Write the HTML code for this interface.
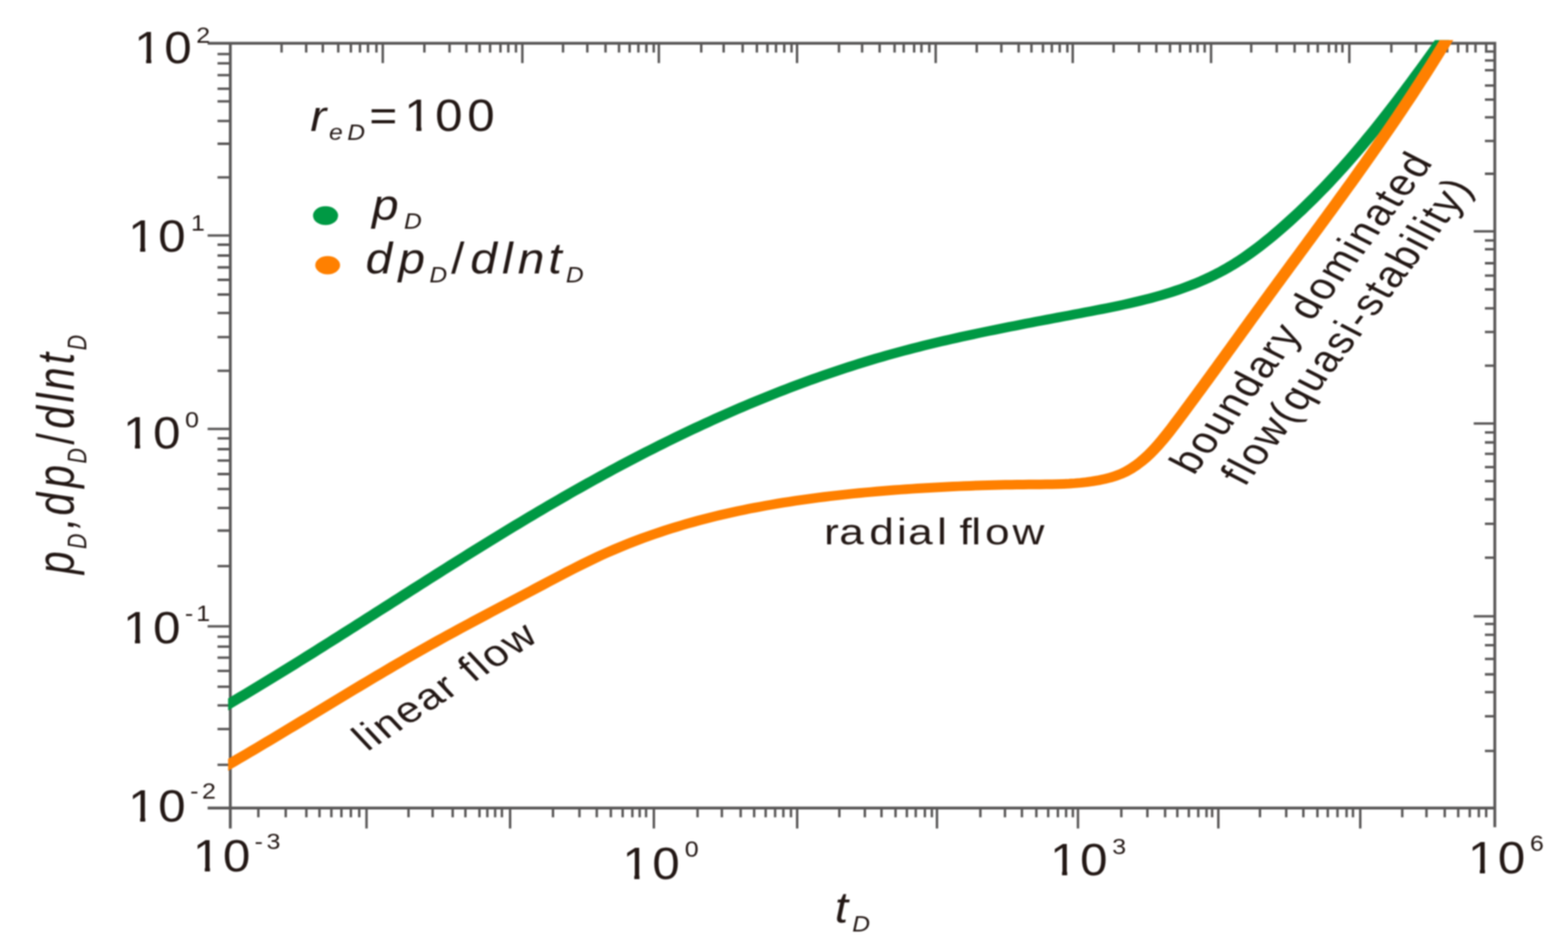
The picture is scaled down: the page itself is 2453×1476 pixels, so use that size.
<!DOCTYPE html>
<html lang="en"><head><meta charset="utf-8"><title>Pressure and pressure derivative type curve</title>
<style>html,body{margin:0;padding:0;background:#fff;}body{width:2453px;height:1476px;overflow:hidden;}svg{display:block;filter:blur(1.3px);}text{font-family:"Liberation Sans",Arial,Helvetica,sans-serif;fill:#231815;}</style></head><body>
<svg xmlns="http://www.w3.org/2000/svg" width="2453" height="1476" viewBox="0 0 2453 1476">
<rect width="2453" height="1476" fill="#fff"/>
<g stroke="#595757" stroke-width="4.4" fill="none" stroke-linecap="butt">
<path d="M324.8 67.7H2340.7 M324.8 1264.8H2340.7 M360.3 65.5V1296.8 M2338.5 65.5V1294.8"/>
<path stroke-width="3.8" d="M573.4 1264.8v32 M798.0 1264.8v32 M1022.9 1264.8v32 M1247.1 1264.8v32 M1465.8 1264.8v32 M1686.4 1264.8v32 M1906.0 1264.8v32 M2128.0 1264.8v32 M404.2 1264.8v14.5 M447.0 1264.8v14.5 M479.3 1264.8v14.5 M499.8 1264.8v14.5 M518.4 1264.8v14.5 M534.1 1264.8v14.5 M548.9 1264.8v14.5 M562.0 1264.8v14.5 M639.1 1264.8v14.5 M676.8 1264.8v14.5 M708.2 1264.8v14.5 M728.1 1264.8v14.5 M750.1 1264.8v14.5 M762.4 1264.8v14.5 M774.6 1264.8v14.5 M785.2 1264.8v14.5 M865.1 1264.8v14.5 M906.5 1264.8v14.5 M933.6 1264.8v14.5 M955.6 1264.8v14.5 M974.1 1264.8v14.5 M989.3 1264.8v14.5 M1000.7 1264.8v14.5 M1010.7 1264.8v14.5 M1091.3 1264.8v14.5 M1129.3 1264.8v14.5 M1158.7 1264.8v14.5 M1179.8 1264.8v14.5 M1197.8 1264.8v14.5 M1212.6 1264.8v14.5 M1225.5 1264.8v14.5 M1237.4 1264.8v14.5 M1313.1 1264.8v14.5 M1353.0 1264.8v14.5 M1379.0 1264.8v14.5 M1401.0 1264.8v14.5 M1418.7 1264.8v14.5 M1432.6 1264.8v14.5 M1446.9 1264.8v14.5 M1457.8 1264.8v14.5 M1533.7 1264.8v14.5 M1572.2 1264.8v14.5 M1598.7 1264.8v14.5 M1621.3 1264.8v14.5 M1639.8 1264.8v14.5 M1655.0 1264.8v14.5 M1667.8 1264.8v14.5 M1678.4 1264.8v14.5 M1754.2 1264.8v14.5 M1795.0 1264.8v14.5 M1822.7 1264.8v14.5 M1841.8 1264.8v14.5 M1859.8 1264.8v14.5 M1874.6 1264.8v14.5 M1887.5 1264.8v14.5 M1896.3 1264.8v14.5 M1971.1 1264.8v14.5 M2012.2 1264.8v14.5 M2039.0 1264.8v14.5 M2061.0 1264.8v14.5 M2077.2 1264.8v14.5 M2092.4 1264.8v14.5 M2106.6 1264.8v14.5 M2116.6 1264.8v14.5 M2193.7 1264.8v14.5 M2231.6 1264.8v14.5 M2260.2 1264.8v14.5 M2281.3 1264.8v14.5 M2299.3 1264.8v14.5 M2313.5 1264.8v14.5 M2325.0 1264.8v14.5 M598.8 67.7v31 M817.2 67.7v31 M1030.7 67.7v31 M1246.9 67.7v31 M1463.8 67.7v31 M1678.2 67.7v31 M1894.6 67.7v31 M2110.9 67.7v31 M440.5 67.7v14.5 M479.0 67.7v14.5 M505.0 67.7v14.5 M529.2 67.7v14.5 M548.9 67.7v14.5 M563.2 67.7v14.5 M575.7 67.7v14.5 M588.9 67.7v14.5 M663.9 67.7v14.5 M703.3 67.7v14.5 M729.6 67.7v14.5 M750.4 67.7v14.5 M766.7 67.7v14.5 M782.9 67.7v14.5 M795.2 67.7v14.5 M807.2 67.7v14.5 M880.8 67.7v14.5 M918.8 67.7v14.5 M947.3 67.7v14.5 M968.4 67.7v14.5 M985.0 67.7v14.5 M998.7 67.7v14.5 M1011.2 67.7v14.5 M1022.7 67.7v14.5 M1097.0 67.7v14.5 M1132.1 67.7v14.5 M1161.8 67.7v14.5 M1184.1 67.7v14.5 M1200.6 67.7v14.5 M1214.0 67.7v14.5 M1226.9 67.7v14.5 M1238.3 67.7v14.5 M1312.5 67.7v14.5 M1348.7 67.7v14.5 M1376.1 67.7v14.5 M1399.5 67.7v14.5 M1413.8 67.7v14.5 M1430.1 67.7v14.5 M1441.5 67.7v14.5 M1453.8 67.7v14.5 M1528.0 67.7v14.5 M1566.5 67.7v14.5 M1593.6 67.7v14.5 M1613.6 67.7v14.5 M1631.6 67.7v14.5 M1645.5 67.7v14.5 M1657.8 67.7v14.5 M1669.8 67.7v14.5 M1742.2 67.7v14.5 M1781.9 67.7v14.5 M1809.0 67.7v14.5 M1830.4 67.7v14.5 M1846.1 67.7v14.5 M1862.1 67.7v14.5 M1873.5 67.7v14.5 M1884.6 67.7v14.5 M1957.4 67.7v14.5 M1997.3 67.7v14.5 M2025.3 67.7v14.5 M2046.7 67.7v14.5 M2061.5 67.7v14.5 M2078.9 67.7v14.5 M2090.1 67.7v14.5 M2100.1 67.7v14.5 M2176.6 67.7v14.5 M2215.3 67.7v14.5 M2244.3 67.7v14.5 M2264.0 67.7v14.5 M2281.1 67.7v14.5 M2295.2 67.7v14.5 M2308.3 67.7v14.5 M2325.0 67.7v14.5 M360.3 368.6h-35.5 M360.3 671.3h-35.5 M360.3 980.3h-35.5 M360.3 84.7h-20 M360.3 99.2h-20 M360.3 117.7h-20 M360.3 138.8h-20 M360.3 158.7h-20 M360.3 189.4h-20 M360.3 225.0h-20 M360.3 277.7h-20 M360.3 383.0h-20 M360.3 400.0h-20 M360.3 418.5h-20 M360.3 438.0h-20 M360.3 461.0h-20 M360.3 489.8h-20 M360.3 527.7h-20 M360.3 580.3h-20 M360.3 686.2h-20 M360.3 703.0h-20 M360.3 720.9h-20 M360.3 742.0h-20 M360.3 765.3h-20 M360.3 795.2h-20 M360.3 830.5h-20 M360.3 886.1h-20 M360.3 996.6h-20 M360.3 1012.2h-20 M360.3 1029.3h-20 M360.3 1050.1h-20 M360.3 1074.8h-20 M360.3 1104.1h-20 M360.3 1141.1h-20 M360.3 1197.2h-20 M2338.5 362.2h-33 M2338.5 662.9h-33 M2338.5 964.7h-33 M2338.5 80.7h-15.5 M2338.5 94.7h-15.5 M2338.5 109.8h-15.5 M2338.5 133.9h-15.5 M2338.5 155.9h-15.5 M2338.5 183.7h-15.5 M2338.5 220.7h-15.5 M2338.5 272.0h-15.5 M2338.5 376.4h-15.5 M2338.5 390.1h-15.5 M2338.5 412.0h-15.5 M2338.5 431.3h-15.5 M2338.5 453.0h-15.5 M2338.5 482.7h-15.5 M2338.5 519.7h-15.5 M2338.5 572.4h-15.5 M2338.5 676.8h-15.5 M2338.5 692.5h-15.5 M2338.5 710.4h-15.5 M2338.5 731.2h-15.5 M2338.5 753.1h-15.5 M2338.5 781.5h-15.5 M2338.5 819.9h-15.5 M2338.5 872.8h-15.5 M2338.5 976.6h-15.5 M2338.5 993.7h-15.5 M2338.5 1009.9h-15.5 M2338.5 1031.3h-15.5 M2338.5 1055.5h-15.5 M2338.5 1083.4h-15.5 M2338.5 1121.2h-15.5 M2338.5 1175.3h-15.5"/>
</g>
<defs><clipPath id="pc"><rect x="356.8" y="62.7" width="1985.2" height="1206.1"/></clipPath>
<clipPath id="c1"><path d="M-2 -80H30.1V-7.3H-2Z M17.0 -20H24.3V3H17.0Z M36.4 -80H200V30H36.4Z"/></clipPath></defs>
<g clip-path="url(#pc)"><g transform="scale(1.300 1)" fill="none" stroke-linejoin="round" stroke-linecap="round" stroke-width="15.0">
<path d="M267.76 1107.64 L273.50 1103.24 L279.25 1098.84 L284.98 1094.43 L290.71 1090.00 L296.43 1085.57 L302.14 1081.12 L307.84 1076.65 L313.54 1072.18 L319.22 1067.69 L324.90 1063.20 L330.57 1058.69 L336.24 1054.17 L341.89 1049.65 L347.55 1045.11 L353.19 1040.57 L358.83 1036.02 L364.46 1031.46 L370.09 1026.90 L375.71 1022.32 L381.33 1017.74 L386.94 1013.16 L392.55 1008.57 L398.16 1003.97 L403.76 999.37 L409.35 994.77 L414.95 990.16 L420.54 985.55 L426.13 980.94 L431.71 976.32 L437.30 971.70 L442.88 967.08 L448.46 962.46 L454.03 957.84 L459.61 953.22 L465.19 948.60 L470.76 943.98 L476.34 939.36 L481.91 934.74 L487.49 930.12 L493.06 925.51 L498.64 920.89 L504.22 916.29 L509.79 911.68 L515.37 907.08 L520.96 902.48 L526.54 897.89 L532.12 893.31 L537.71 888.73 L543.30 884.15 L548.90 879.58 L554.49 875.02 L560.10 870.47 L565.70 865.93 L571.31 861.39 L576.92 856.86 L582.54 852.34 L588.16 847.84 L593.79 843.34 L599.43 838.85 L605.07 834.37 L610.71 829.91 L616.36 825.45 L622.02 821.01 L627.69 816.58 L633.36 812.17 L639.04 807.77 L644.72 803.38 L650.42 799.00 L656.12 794.65 L661.83 790.30 L667.55 785.97 L673.28 781.66 L679.02 777.37 L684.77 773.09 L690.52 768.83 L696.29 764.59 L702.07 760.36 L707.85 756.16 L713.65 751.97 L719.46 747.81 L725.28 743.66 L731.11 739.53 L736.96 735.43 L742.81 731.35 L748.68 727.28 L754.56 723.24 L760.44 719.23 L766.34 715.23 L772.25 711.26 L778.17 707.32 L784.10 703.39 L790.05 699.50 L796.00 695.62 L801.96 691.77 L807.93 687.95 L813.92 684.16 L819.91 680.39 L825.92 676.65 L831.93 672.93 L837.95 669.25 L843.99 665.59 L850.03 661.96 L856.09 658.36 L862.15 654.79 L868.22 651.25 L874.31 647.74 L880.40 644.27 L886.50 640.82 L892.61 637.40 L898.73 634.02 L904.86 630.67 L911.00 627.35 L917.15 624.07 L923.30 620.82 L929.47 617.60 L935.64 614.42 L941.83 611.27 L948.02 608.16 L954.22 605.08 L960.43 602.04 L966.64 599.04 L972.87 596.08 L979.10 593.15 L985.35 590.26 L991.60 587.41 L997.85 584.59 L1004.12 581.82 L1010.40 579.08 L1016.68 576.39 L1022.97 573.74 L1029.26 571.12 L1035.57 568.55 L1041.88 566.02 L1048.20 563.53 L1054.53 561.09 L1060.86 558.69 L1067.21 556.33 L1073.55 554.01 L1079.91 551.74 L1086.27 549.51 L1092.64 547.32 L1099.02 545.17 L1105.40 543.05 L1111.79 540.97 L1118.19 538.93 L1124.59 536.92 L1131.00 534.94 L1137.42 533.00 L1143.84 531.08 L1150.27 529.19 L1156.71 527.33 L1163.15 525.50 L1169.59 523.68 L1176.05 521.89 L1182.51 520.13 L1188.97 518.38 L1195.44 516.65 L1201.92 514.94 L1208.40 513.24 L1214.89 511.56 L1221.38 509.90 L1227.88 508.24 L1234.38 506.60 L1240.89 504.96 L1247.40 503.34 L1253.92 501.72 L1260.44 500.10 L1266.97 498.49 L1273.50 496.88 L1280.04 495.27 L1286.58 493.67 L1293.13 492.06 L1299.68 490.45 L1306.23 488.83 L1312.79 487.20 L1319.35 485.56 L1325.90 483.89 L1332.45 482.19 L1338.99 480.46 L1345.52 478.69 L1352.04 476.86 L1358.55 474.98 L1365.03 473.04 L1371.50 471.03 L1377.95 468.95 L1384.37 466.78 L1390.76 464.53 L1397.12 462.18 L1403.45 459.73 L1409.75 457.18 L1416.01 454.51 L1422.24 451.72 L1428.42 448.80 L1434.55 445.76 L1440.64 442.57 L1446.68 439.24 L1452.67 435.76 L1458.61 432.11 L1464.49 428.31 L1470.31 424.33 L1476.07 420.17 L1481.77 415.84 L1487.41 411.32 L1492.98 406.65 L1498.50 401.82 L1503.95 396.85 L1509.35 391.75 L1514.69 386.53 L1519.98 381.20 L1525.21 375.78 L1530.39 370.27 L1535.52 364.68 L1540.60 359.02 L1545.63 353.29 L1550.61 347.51 L1555.55 341.68 L1560.44 335.80 L1565.29 329.88 L1570.09 323.91 L1574.85 317.89 L1579.57 311.84 L1584.25 305.74 L1588.89 299.60 L1593.49 293.42 L1598.05 287.20 L1602.58 280.94 L1607.07 274.64 L1611.52 268.31 L1615.95 261.94 L1620.34 255.54 L1624.69 249.10 L1629.02 242.62 L1633.32 236.11 L1637.59 229.58 L1641.83 223.00 L1646.04 216.40 L1650.23 209.77 L1654.39 203.11 L1658.53 196.43 L1662.65 189.71 L1666.74 182.97 L1670.82 176.20 L1674.87 169.41 L1678.90 162.60 L1682.92 155.76 L1686.92 148.90 L1690.90 142.02 L1694.87 135.11 L1698.82 128.19 L1702.76 121.25 L1706.69 114.29 L1710.60 107.32 L1714.51 100.32 L1718.41 93.32 L1722.29 86.29 L1726.17 79.26 L1730.05 72.21 L1733.92 65.14 L1737.78 58.08" stroke="#009944"/>
<path d="M268.26 1201.79 L274.32 1197.23 L280.37 1192.67 L286.43 1188.09 L292.47 1183.49 L298.52 1178.87 L304.56 1174.24 L310.60 1169.59 L316.63 1164.93 L322.67 1160.26 L328.70 1155.57 L334.73 1150.87 L340.75 1146.16 L346.78 1141.45 L352.80 1136.73 L358.83 1132.00 L364.85 1127.27 L370.87 1122.53 L376.89 1117.79 L382.92 1113.05 L388.94 1108.31 L394.96 1103.57 L400.99 1098.83 L407.02 1094.10 L413.05 1089.37 L419.08 1084.65 L425.11 1079.93 L431.15 1075.22 L437.19 1070.52 L443.23 1065.83 L449.28 1061.15 L455.33 1056.48 L461.39 1051.83 L467.45 1047.20 L473.51 1042.57 L479.58 1037.97 L485.66 1033.38 L491.74 1028.82 L497.82 1024.27 L503.92 1019.75 L510.02 1015.25 L516.13 1010.77 L522.24 1006.32 L528.36 1001.90 L534.49 997.50 L540.63 993.12 L546.77 988.76 L552.93 984.43 L559.08 980.11 L565.25 975.80 L571.42 971.51 L577.60 967.23 L583.78 962.96 L589.98 958.69 L596.17 954.43 L602.37 950.18 L608.58 945.92 L614.80 941.67 L621.02 937.41 L627.24 933.14 L633.47 928.87 L639.71 924.59 L645.95 920.30 L652.19 916.00 L658.44 911.69 L664.70 907.39 L670.97 903.10 L677.24 898.82 L683.53 894.58 L689.84 890.37 L696.15 886.21 L702.49 882.11 L708.84 878.07 L715.21 874.10 L721.60 870.21 L728.02 866.41 L734.45 862.71 L740.91 859.09 L747.39 855.57 L753.90 852.13 L760.42 848.79 L766.97 845.52 L773.53 842.34 L780.12 839.25 L786.72 836.24 L793.34 833.31 L799.98 830.45 L806.64 827.68 L813.32 824.98 L820.02 822.36 L826.73 819.82 L833.46 817.34 L840.20 814.94 L846.96 812.61 L853.74 810.35 L860.53 808.16 L867.33 806.03 L874.15 803.97 L880.98 801.97 L887.83 800.04 L894.69 798.17 L901.56 796.36 L908.44 794.61 L915.34 792.92 L922.24 791.28 L929.16 789.70 L936.09 788.17 L943.02 786.70 L949.97 785.28 L956.93 783.91 L963.89 782.58 L970.86 781.31 L977.84 780.08 L984.83 778.90 L991.83 777.76 L998.83 776.66 L1005.84 775.61 L1012.85 774.60 L1019.87 773.62 L1026.90 772.68 L1033.93 771.78 L1040.96 770.92 L1048.00 770.09 L1055.04 769.29 L1062.08 768.52 L1069.13 767.78 L1076.18 767.07 L1083.23 766.39 L1090.28 765.74 L1097.33 765.12 L1104.39 764.52 L1111.44 763.96 L1118.50 763.42 L1125.55 762.90 L1132.60 762.42 L1139.65 761.96 L1146.70 761.53 L1153.75 761.13 L1160.80 760.75 L1167.84 760.40 L1174.88 760.07 L1181.92 759.77 L1188.95 759.50 L1195.98 759.25 L1203.00 759.02 L1210.02 758.83 L1217.03 758.65 L1224.04 758.51 L1231.04 758.38 L1238.04 758.28 L1245.03 758.21 L1252.01 758.14 L1258.98 758.05 L1265.95 757.92 L1272.90 757.71 L1279.85 757.40 L1286.79 756.97 L1293.72 756.37 L1300.64 755.60 L1307.55 754.61 L1314.45 753.38 L1321.34 751.89 L1328.21 750.09 L1335.04 747.93 L1341.79 745.29 L1348.40 742.09 L1354.83 738.23 L1361.04 733.66 L1366.98 728.52 L1372.62 722.98 L1377.98 717.11 L1383.10 710.94 L1388.00 704.49 L1392.74 697.81 L1397.34 690.94 L1401.82 683.90 L1406.22 676.73 L1410.54 669.46 L1414.81 662.13 L1419.06 654.77 L1423.28 647.41 L1427.50 640.05 L1431.69 632.67 L1435.88 625.30 L1440.05 617.92 L1444.21 610.54 L1448.36 603.16 L1452.51 595.78 L1456.64 588.39 L1460.77 581.00 L1464.89 573.61 L1469.00 566.22 L1473.11 558.83 L1477.22 551.44 L1481.33 544.05 L1485.43 536.66 L1489.53 529.27 L1493.63 521.88 L1497.73 514.49 L1501.84 507.10 L1505.95 499.72 L1510.06 492.34 L1514.18 484.96 L1518.30 477.58 L1522.43 470.21 L1526.56 462.84 L1530.70 455.48 L1534.85 448.11 L1539.00 440.75 L1543.15 433.38 L1547.31 426.02 L1551.46 418.66 L1555.62 411.30 L1559.78 403.94 L1563.95 396.58 L1568.11 389.21 L1572.27 381.85 L1576.43 374.48 L1580.59 367.11 L1584.75 359.73 L1588.90 352.36 L1593.05 344.98 L1597.20 337.59 L1601.34 330.21 L1605.48 322.81 L1609.61 315.41 L1613.74 308.01 L1617.86 300.60 L1621.97 293.18 L1626.08 285.76 L1630.18 278.32 L1634.26 270.89 L1638.34 263.44 L1642.41 255.98 L1646.47 248.52 L1650.52 241.04 L1654.55 233.56 L1658.58 226.06 L1662.59 218.56 L1666.59 211.04 L1670.57 203.51 L1674.54 195.97 L1678.50 188.42 L1682.44 180.86 L1686.36 173.28 L1690.26 165.69 L1694.15 158.08 L1698.03 150.47 L1701.88 142.83 L1705.71 135.18 L1709.53 127.52 L1713.32 119.84 L1717.10 112.14 L1720.85 104.43 L1724.58 96.70 L1728.29 88.95 L1731.98 81.19 L1735.64 73.40 L1739.28 65.60 L1742.91 57.79" stroke="#ff8000"/>
</g></g>
<text transform="translate(209.94 99.2) scale(1.1 1)" clip-path="url(#c1)"><tspan font-size="70" x="0 42.68">10</tspan><tspan font-size="35.5" x="88.21" y="-32.7">2</tspan></text>
<text transform="translate(200.54 393.9) scale(1.1 1)" clip-path="url(#c1)"><tspan font-size="70" x="0 42.68">10</tspan><tspan font-size="35.5" x="89.31" y="-32.7">1</tspan></text>
<text transform="translate(192.44 701.6) scale(1.1 1)" clip-path="url(#c1)"><tspan font-size="70" x="0 42.68">10</tspan><tspan font-size="35.5" x="88.21" y="-32.9">0</tspan></text>
<text transform="translate(192.44 1007.2) scale(1.1 1)" clip-path="url(#c1)"><tspan font-size="70" x="0 42.68">10</tspan><tspan font-size="35.5" x="88.02 104.22" y="-34.8">-1</tspan></text>
<text transform="translate(200.54 1285.9) scale(1.1 1)" clip-path="url(#c1)"><tspan font-size="70" x="0 42.68">10</tspan><tspan font-size="35.5" x="88.07 105.07" y="-35.5">-2</tspan></text>
<text transform="translate(301.74 1364.3) scale(1.1 1)" clip-path="url(#c1)"><tspan font-size="70" x="0 42.68">10</tspan><tspan font-size="35.5" x="87.7 104.84" y="-35">-3</tspan></text>
<text transform="translate(973.63 1375.7) scale(1.1 1)" clip-path="url(#c1)"><tspan font-size="70" x="0 42.68">10</tspan><tspan font-size="35.5" x="88.75" y="-34.9">0</tspan></text>
<text transform="translate(1642.79 1370.4) scale(1.1 1)" clip-path="url(#c1)"><tspan font-size="70" x="0 42.68">10</tspan><tspan font-size="35.5" x="88.48" y="-33.3">3</tspan></text>
<text transform="translate(2296.38 1367.2) scale(1.1 1)" clip-path="url(#c1)"><tspan font-size="70" x="0 42.68">10</tspan><tspan font-size="35.5" x="88.3" y="-35">6</tspan></text>
<text transform="translate(480 204.6) scale(1.1 1)"><tspan font-size="68" font-style="italic" x="5.08">r</tspan><tspan font-size="35" font-style="italic" x="31.56 57.4" y="14">eD</tspan><tspan font-size="68" x="88.84" y="0">=</tspan></text>
<text transform="translate(632.58 204.6) scale(1.1 1)" clip-path="url(#c1)"><tspan font-size="70" x="0 43.86 89.5">100</tspan></text>
<ellipse cx="509.3" cy="337.5" rx="19.6" ry="14.8" fill="#009944"/>
<ellipse cx="512.6" cy="415.1" rx="19.4" ry="14.4" fill="#ff8000"/>
<text transform="translate(570 344) scale(1.1 1)"><tspan font-size="68" font-style="italic" x="11">p</tspan><tspan font-size="35" font-style="italic" x="56.31" y="14">D</tspan></text>
<text transform="translate(570 428.3) scale(1.1 1)"><tspan font-size="68" font-style="italic" x="1.82 48.45">dp</tspan><tspan font-size="35" font-style="italic" x="92.4" y="14">D</tspan><tspan font-size="68" x="123.46" y="0">/</tspan><tspan font-size="68" font-style="italic" x="150.73 195.98 218.16 261.93" y="0">dlnt</tspan><tspan font-size="35" font-style="italic" x="286.67" y="14">D</tspan></text>
<text transform="translate(1300 1444) scale(1.1 1)"><tspan font-size="68" font-style="italic" x="5.48">t</tspan><tspan font-size="35" font-style="italic" x="30.31" y="14">D</tspan></text>
<text transform="translate(115 904) scale(1.26 1) rotate(-90)"><tspan font-size="64.6" font-style="italic" x="5.25" y="0">p</tspan><tspan font-size="33.3" font-style="italic" x="44.81" y="16">D</tspan><tspan font-size="64.6" font-style="italic" x="75.99" y="0">,</tspan><tspan font-size="64.6" font-style="italic" x="96.94 140.15" y="0">dp</tspan><tspan font-size="33.3" font-style="italic" x="178.61" y="16">D</tspan><tspan font-size="64.6" x="207.92" y="0">/</tspan><tspan font-size="64.6" font-style="italic" x="232.84 274.1 292.98 333.63" y="0">dlnt</tspan><tspan font-size="33.3" font-style="italic" x="355.81" y="16">D</tspan></text>
<text transform="translate(1289.29 852.2) scale(1.2 1)"><tspan font-size="57.5" x="0 19.84 58.85 94.97 109.51 147.31 158.92 176.36 191.81 209.68 245.54">radial flow</tspan></text>
<text transform="translate(574.6 1177.1) scale(1.2 1) rotate(-38)"><tspan font-size="57.5" letter-spacing="2.63">linear flow</tspan></text>
<text transform="translate(1867.4 745) scale(1.22 1) rotate(-57.9)"><tspan font-size="57.5" letter-spacing="3.2">boundary dominated</tspan></text>
<text transform="translate(1947 763) scale(1.22 1) rotate(-57.9)"><tspan font-size="57.5" letter-spacing="3.2">flow(quasi-stability)</tspan></text>
</svg></body></html>
